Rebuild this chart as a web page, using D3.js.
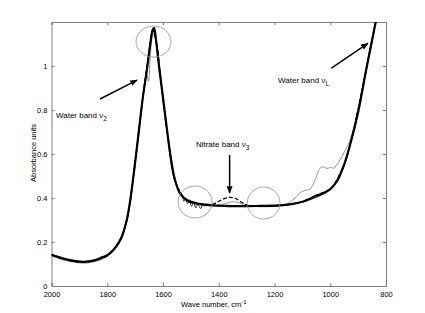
<!DOCTYPE html>
<html>
<head>
<meta charset="utf-8">
<script src="https://cdn.jsdelivr.net/npm/d3@7/dist/d3.min.js"></script>
<style>
  body { margin: 0; background: #fff; }
  svg { display: block; font-family: "Liberation Sans", Arial, sans-serif; }
</style>
</head>
<body>
<div id="chart"></div>
<script>
// axis ticks
const xTicks = [2000, 1800, 1600, 1400, 1200, 1000, 800];
const yTicks = [0, 0.2, 0.4, 0.6, 0.8, 1];

// thick solid spectrum
const mainWave = [2000,1960,1920,1880,1840,1826,1800,1778,1760,1748,1730,1718,1707,1694,1683,1671,1658,1647,1637,1632,1625,1617,1605,1593,1581,1569,1557,1539,1515,1479,1431,1380,1340,1300,1250,1200,1150,1100,1050,1020,1000,977,953,929,900,870,840,826];
const mainAbs  = [0.142,0.125,0.114,0.110,0.118,0.126,0.140,0.164,0.195,0.224,0.300,0.385,0.490,0.625,0.745,0.870,0.980,1.088,1.164,1.172,1.118,1.027,0.906,0.785,0.664,0.558,0.482,0.421,0.391,0.376,0.368,0.364,0.363,0.363,0.364,0.365,0.370,0.383,0.410,0.425,0.440,0.474,0.542,0.641,0.790,0.990,1.180,1.270];

// dashed spectrum (nitrate band)
const dashWave = [2000,1920,1880,1800,1760,1748,1730,1718,1707,1694,1671,1647,1637,1625,1605,1581,1557,1515,1479,1440,1420,1400,1380,1360,1340,1320,1300,1280,1200,1100,1040,1000,953,929,870,826];
const dashAbs  = [0.140,0.112,0.108,0.138,0.193,0.222,0.298,0.383,0.488,0.623,0.868,1.086,1.160,1.115,0.904,0.662,0.480,0.389,0.374,0.367,0.372,0.385,0.397,0.403,0.398,0.382,0.368,0.363,0.364,0.384,0.418,0.442,0.543,0.641,0.990,1.270];

// thin grey spectrum with bands near 1000
const greyWave = [2000,1960,1920,1880,1840,1800,1760,1748,1730,1718,1707,1694,1671,1658,1652,1646,1640,1634,1625,1605,1581,1557,1515,1479,1431,1390,1370,1350,1330,1310,1290,1250,1200,1165,1130,1102,1085,1073,1055,1037,1025,1016,1007,998,989,977,965,945,929,900,870,840,826];
const greyAbs  = [0.136,0.119,0.108,0.104,0.112,0.134,0.190,0.218,0.294,0.379,0.484,0.619,0.864,0.960,0.930,1.040,1.120,1.150,1.110,0.900,0.658,0.476,0.386,0.371,0.364,0.370,0.378,0.383,0.379,0.370,0.364,0.360,0.362,0.368,0.395,0.429,0.436,0.440,0.480,0.535,0.542,0.536,0.535,0.540,0.535,0.550,0.573,0.620,0.664,0.800,1.000,1.190,1.270];

// thin noisy spectrum
const noisyWave = [2000,1920,1880,1800,1760,1748,1730,1718,1707,1694,1671,1647,1637,1625,1605,1581,1557,1539,1530,1525,1520,1512,1505,1498,1490,1482,1475,1465,1458,1450,1420,1300,1200,1100,1000,953,929,870,826];
const noisyAbs  = [0.144,0.116,0.112,0.142,0.197,0.226,0.302,0.387,0.492,0.627,0.872,1.090,1.166,1.120,0.908,0.666,0.484,0.423,0.405,0.385,0.400,0.374,0.392,0.362,0.378,0.355,0.372,0.352,0.368,0.366,0.366,0.362,0.364,0.382,0.439,0.540,0.639,0.988,1.268];

// annotations, in data units
const arrows = [
  { from: [1826, 0.850], to: [1693, 0.936] },
  { from: [1361, 0.595], to: [1361, 0.423] },
  { from: [996, 0.990],  to: [865, 1.103] }
];
const labels = [
  { at: [1984, 0.762], text: "Water band \u03bd", sub: "2" },
  { at: [1482, 0.633], text: "Nitrate band \u03bd", sub: "3" },
  { at: [1187, 0.924], text: "Water band \u03bd", sub: "L" }
];
const circles = [
  { at: [1634, 1.111], rx: 17.5, ry: 15.5 },
  { at: [1485, 0.382], rx: 17, ry: 16 },
  { at: [1239, 0.377], rx: 16.5, ry: 16 }
];

const W = 425, H = 313;
const margin = { top: 22, right: 39, bottom: 27, left: 51.5 };
const iw = W - margin.left - margin.right;
const ih = H - margin.top - margin.bottom;

const svg = d3.select("#chart").append("svg")
  .attr("width", W).attr("height", H);

const g = svg.append("g")
  .attr("transform", `translate(${margin.left},${margin.top})`);

const x = d3.scaleLinear().domain([2000, 800]).range([0, iw]);
const y = d3.scaleLinear().domain([0, 1.2]).range([ih, 0]);

svg.append("defs").append("clipPath").attr("id", "plot")
  .append("rect").attr("width", iw).attr("height", ih);
svg.select("defs").append("marker")
  .attr("id", "head").attr("viewBox", "0 0 10 10")
  .attr("refX", 9).attr("refY", 5)
  .attr("markerWidth", 5).attr("markerHeight", 5)
  .attr("orient", "auto")
  .append("path").attr("d", "M0,1 L10,5 L0,9 z").attr("fill", "#000");

const axisColor = "#808080";
const tickLen = 3;

// axes (inward ticks on all sides)
const xb = g.append("g").attr("transform", `translate(0,${ih})`)
  .call(d3.axisBottom(x).tickValues(xTicks).tickSize(-tickLen).tickPadding(6).tickFormat(d3.format("d")));
const xt = g.append("g")
  .call(d3.axisTop(x).tickValues(xTicks).tickSize(-tickLen).tickFormat(""));
const yl = g.append("g")
  .call(d3.axisLeft(y).tickValues(yTicks).tickSize(-tickLen).tickPadding(4).tickFormat(d => d === 0 || d === 1 ? d3.format("d")(d) : d3.format(".1f")(d)));
const yr = g.append("g").attr("transform", `translate(${iw},0)`)
  .call(d3.axisRight(y).tickValues(yTicks).tickSize(-tickLen).tickFormat(""));

[xb, xt, yl, yr].forEach(a => {
  a.select(".domain").attr("stroke", axisColor).attr("stroke-width", 1);
  a.selectAll(".tick line").attr("stroke", axisColor);
  a.selectAll(".tick text").attr("fill", "#000").style("font-size", "7.5px");
});

// spectra
const line = d3.line()
  .x(d => x(d[0])).y(d => y(d[1]))
  .curve(d3.curveCatmullRom.alpha(0.5));

const plot = g.append("g").attr("clip-path", "url(#plot)");

const series = [
  { wave: greyWave,  abs: greyAbs,  color: "#7a7a7a", width: 0.8, dash: null },
  { wave: noisyWave, abs: noisyAbs, color: "#222",    width: 0.9, dash: null },
  { wave: dashWave,  abs: dashAbs,  color: "#000",    width: 1.3, dash: "4,2" },
  { wave: mainWave,  abs: mainAbs,  color: "#000",    width: 2.2, dash: null }
];

series.forEach(s => {
  plot.append("path")
    .datum(d3.zip(s.wave, s.abs))
    .attr("fill", "none")
    .attr("stroke", s.color)
    .attr("stroke-width", s.width)
    .attr("stroke-dasharray", s.dash)
    .attr("stroke-linejoin", "round")
    .attr("d", line);
});

// circles
g.selectAll(".ring").data(circles).enter().append("ellipse")
  .attr("cx", d => x(d.at[0])).attr("cy", d => y(d.at[1]))
  .attr("rx", d => d.rx).attr("ry", d => d.ry)
  .attr("fill", "none").attr("stroke", "#909090").attr("stroke-width", 0.8);

// arrows
g.selectAll(".arrow").data(arrows).enter().append("line")
  .attr("x1", d => x(d.from[0])).attr("y1", d => y(d.from[1]))
  .attr("x2", d => x(d.to[0])).attr("y2", d => y(d.to[1]))
  .attr("stroke", "#000").attr("stroke-width", 1.5)
  .attr("marker-end", "url(#head)");

// labels
const lab = g.selectAll(".lab").data(labels).enter().append("text")
  .attr("x", d => x(d.at[0])).attr("y", d => y(d.at[1]))
  .attr("fill", "#000").style("font-size", "8px");
lab.append("tspan").text(d => d.text);
lab.append("tspan").attr("dy", 3).style("font-size", "6.5px").text(d => d.sub);

// axis titles
const xtitle = svg.append("text")
  .attr("x", margin.left + iw / 2 - 5).attr("y", 306.5)
  .attr("text-anchor", "middle").attr("fill", "#000").style("font-size", "7.5px");
xtitle.append("tspan").text("Wave number, cm");
xtitle.append("tspan").attr("dy", -3).style("font-size", "6px").text("-1");

svg.append("text")
  .attr("transform", `translate(35.5,153) rotate(-90)`)
  .attr("text-anchor", "middle").attr("fill", "#000").style("font-size", "7.5px")
  .text("Absorbance units");
</script>
</body>
</html>
